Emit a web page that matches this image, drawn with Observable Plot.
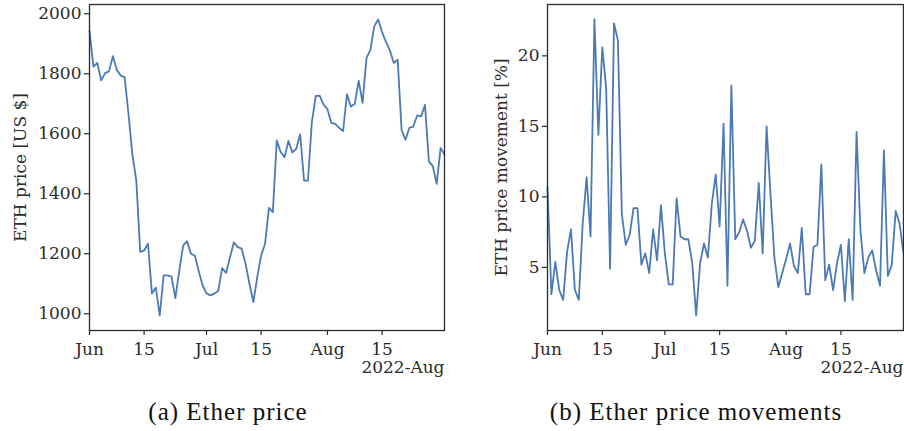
<!DOCTYPE html>
<html>
<head>
<meta charset="utf-8">
<script src="https://cdn.jsdelivr.net/npm/d3@7"></script>
<script src="https://cdn.jsdelivr.net/npm/@observablehq/plot@0.6"></script>
<style>
  html, body { margin: 0; padding: 0; background: #fff; }
  #wrap { position: relative; width: 904px; height: 431px; overflow: hidden; background: #fff; }
  .panel { position: absolute; top: 0; }
  .cap { position: absolute; top: 398px; font-family: "Liberation Serif", serif; font-size: 25px;
         letter-spacing: 1px; color: #111; white-space: nowrap; transform: translateX(-50%); }
</style>
</head>
<body>
<div id="wrap">
  <div id="left" class="panel" style="left:0px"></div>
  <div id="right" class="panel" style="left:452px"></div>
  <div class="cap" style="left:228px">(a) Ether price</div>
  <div class="cap" style="left:696px">(b) Ether price movements</div>
</div>
<script>
// ---- data ----
const startDay = "2022-06-01";
const endDay = "2022-08-31";

// daily ETH price [US $], Jun 1 .. Aug 31 2022
const priceValues = [
  1944, 1824, 1836, 1778, 1802, 1808, 1859, 1813, 1794, 1789,
  1665, 1530, 1444, 1206, 1211, 1233, 1067, 1087, 994, 1128,
  1128, 1124, 1052, 1142, 1227, 1242, 1200, 1193, 1142, 1094,
  1068, 1061, 1067, 1076, 1152, 1136, 1187, 1238, 1222, 1217,
  1167, 1100, 1039, 1122, 1194, 1233, 1353, 1339, 1578, 1539,
  1522, 1576, 1538, 1550, 1598, 1444, 1444, 1639, 1726, 1727,
  1697, 1682, 1636, 1633, 1620, 1609, 1732, 1691, 1700, 1777,
  1703, 1852, 1880, 1958, 1981, 1939, 1906, 1878, 1836, 1847,
  1613, 1580, 1620, 1624, 1661, 1658, 1696, 1508, 1492, 1433,
  1553, 1531
];

// daily ETH price movement [%], Jun 1 .. Aug 31 2022
const movementValues = [
  10.7, 3.1, 5.4, 3.4, 2.7, 6.1, 7.7, 3.4, 2.7, 8.1,
  11.4, 7.2, 22.6, 14.4, 20.6, 17.7, 4.9, 22.3, 21.1, 8.8,
  6.6, 7.3, 9.2, 9.2, 5.2, 6.0, 4.6, 7.7, 5.5, 9.4,
  6.0, 3.8, 3.8, 9.9, 7.2, 7.0, 7.0, 5.3, 1.6, 5.3,
  6.7, 5.7, 9.5, 11.6, 7.9, 15.2, 3.7, 17.9, 7.0, 7.5,
  8.4, 7.6, 6.4, 6.9, 11.0, 6.0, 15.0, 10.2, 5.7, 3.6,
  4.6, 5.6, 6.7, 5.1, 4.6, 7.8, 3.1, 3.1, 6.45, 6.6,
  12.3, 4.1, 5.2, 3.4, 5.3, 6.6, 2.6, 7.0, 2.7, 14.6,
  7.6, 4.6, 5.7, 6.2, 4.8, 3.7, 13.3, 4.4, 5.2, 9.0,
  8.1, 6.0
];

const xTickDates = ["2022-06-01", "2022-06-15", "2022-07-01", "2022-07-15", "2022-08-01", "2022-08-15"];
const xTickLabels = ["Jun", "15", "Jul", "15", "Aug", "15"];
const xOffsetLabel = "2022-Aug";

const priceTicks = [1000, 1200, 1400, 1600, 1800, 2000];
const priceDomain = [944, 2031];
const priceLabel = "ETH price [US $]";

const moveTicks = [5, 10, 15, 20];
const moveDomain = [0.53, 23.64];
const moveLabel = "ETH price movement [%]";

// ---- build ----
const t0 = new Date(startDay + "T00:00:00Z");
const t1 = new Date(endDay + "T00:00:00Z");
const dates = d3.utcDays(t0, d3.utcDay.offset(t1, 1));
const xTicks = xTickDates.map(s => new Date(s + "T00:00:00Z"));
const tickLabelMap = new Map(xTicks.map((d, i) => [+d, xTickLabels[i]]));

const ink = "#2b2b2b";
const lineColor = "#4C7AB4";
const FONT = 17;

function panel({values, yDomain, yTicks, yLabel, marginLeft, marginRight, labelDx}) {
  const data = dates.map((d, i) => ({date: d, value: values[i]}));
  return Plot.plot({
    width: 452,
    height: 380,
    marginLeft,
    marginRight,
    marginTop: 4,
    marginBottom: 50,
    style: {fontFamily: "'DejaVu Serif', serif", fontSize: FONT + "px", color: ink, background: "transparent", overflow: "visible"},
    x: {type: "utc", domain: [t0, t1]},
    y: {domain: yDomain},
    marks: [
      Plot.line(data, {x: "date", y: "value", stroke: lineColor, strokeWidth: 1.8}),
      Plot.frame({stroke: ink, strokeWidth: 1.3}),
      Plot.axisX({ticks: xTicks, tickFormat: d => tickLabelMap.get(+d), tickSize: 5, tickPadding: 7,
                  label: null, stroke: ink, strokeWidth: 1.2, fontSize: FONT}),
      Plot.axisY({ticks: yTicks, tickFormat: d => String(d), tickSize: 5, tickPadding: 3,
                  label: null, stroke: ink, strokeWidth: 1.2, fontSize: FONT}),
      Plot.text([yLabel], {frameAnchor: "left", text: d => d, rotate: -90, dx: labelDx,
                           textAnchor: "middle", lineAnchor: "middle", fontSize: FONT, fill: ink}),
      Plot.text([xOffsetLabel], {frameAnchor: "bottom-right", text: d => d, dy: 37.5,
                                 textAnchor: "end", lineAnchor: "middle", fontSize: FONT, fill: ink})
    ]
  });
}

document.getElementById("left").appendChild(panel({
  values: priceValues, yDomain: priceDomain, yTicks: priceTicks, yLabel: priceLabel,
  marginLeft: 89, marginRight: 8, labelDx: -69
}));
document.getElementById("right").appendChild(panel({
  values: movementValues, yDomain: moveDomain, yTicks: moveTicks, yLabel: moveLabel,
  marginLeft: 95, marginRight: 1, labelDx: -46
}));
</script>
</body>
</html>
